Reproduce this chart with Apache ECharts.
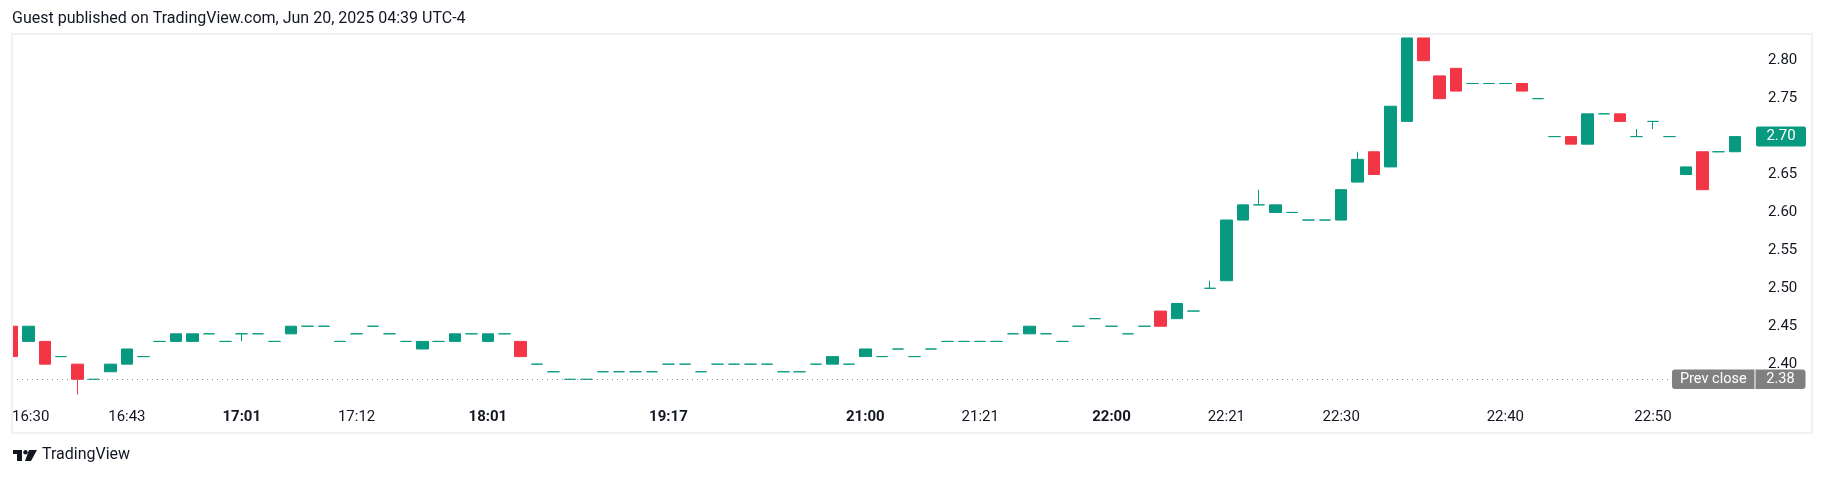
<!DOCTYPE html>
<html>
<head>
<meta charset="utf-8">
<title>TradingView chart</title>
<script src="https://cdn.jsdelivr.net/npm/echarts@6/dist/echarts.min.js"></script>
<style>
  html, body { margin: 0; padding: 0; background: #fff; }
  #chart { width: 1826px; height: 478px; }
</style>
</head>
<body>
<div id="chart"></div>
<script>
// candles, one per bar, left to right
const openPrices = [
  2.45, 2.43, 2.43, 2.41, 2.40, 2.38, 2.39, 2.40, 2.41, 2.43,
  2.43, 2.43, 2.44, 2.43, 2.44, 2.44, 2.43, 2.44, 2.45, 2.45,
  2.43, 2.44, 2.45, 2.44, 2.43, 2.42, 2.43, 2.43, 2.44, 2.43,
  2.44, 2.43, 2.40, 2.39, 2.38, 2.38, 2.39, 2.39, 2.39, 2.39,
  2.40, 2.40, 2.39, 2.40, 2.40, 2.40, 2.40, 2.39, 2.39, 2.40,
  2.40, 2.40, 2.41, 2.41, 2.42, 2.41, 2.42, 2.43, 2.43, 2.43,
  2.43, 2.44, 2.44, 2.44, 2.43, 2.45, 2.46, 2.45, 2.44, 2.45,
  2.47, 2.46, 2.47, 2.50, 2.51, 2.59, 2.61, 2.60, 2.60, 2.59,
  2.59, 2.59, 2.64, 2.68, 2.66, 2.72, 2.83, 2.78, 2.79, 2.77,
  2.77, 2.77, 2.77, 2.75, 2.70, 2.70, 2.69, 2.73, 2.73, 2.70,
  2.72, 2.70, 2.65, 2.68, 2.68, 2.68
]
const closePrices = [
  2.41, 2.45, 2.40, 2.41, 2.38, 2.38, 2.40, 2.42, 2.41, 2.43,
  2.44, 2.44, 2.44, 2.43, 2.44, 2.44, 2.43, 2.45, 2.45, 2.45,
  2.43, 2.44, 2.45, 2.44, 2.43, 2.43, 2.43, 2.44, 2.44, 2.44,
  2.44, 2.41, 2.40, 2.39, 2.38, 2.38, 2.39, 2.39, 2.39, 2.39,
  2.40, 2.40, 2.39, 2.40, 2.40, 2.40, 2.40, 2.39, 2.39, 2.40,
  2.41, 2.40, 2.42, 2.41, 2.42, 2.41, 2.42, 2.43, 2.43, 2.43,
  2.43, 2.44, 2.45, 2.44, 2.43, 2.45, 2.46, 2.45, 2.44, 2.45,
  2.45, 2.48, 2.47, 2.50, 2.59, 2.61, 2.61, 2.61, 2.60, 2.59,
  2.59, 2.63, 2.67, 2.65, 2.74, 2.83, 2.80, 2.75, 2.76, 2.77,
  2.77, 2.77, 2.76, 2.75, 2.70, 2.69, 2.73, 2.73, 2.72, 2.70,
  2.72, 2.70, 2.66, 2.63, 2.68, 2.70
]
const lowPrices = [
  2.41, 2.43, 2.40, 2.41, 2.36, 2.38, 2.39, 2.40, 2.41, 2.43,
  2.43, 2.43, 2.44, 2.43, 2.43, 2.44, 2.43, 2.44, 2.45, 2.45,
  2.43, 2.44, 2.45, 2.44, 2.43, 2.42, 2.43, 2.43, 2.44, 2.43,
  2.44, 2.41, 2.40, 2.39, 2.38, 2.38, 2.39, 2.39, 2.39, 2.39,
  2.40, 2.40, 2.39, 2.40, 2.40, 2.40, 2.40, 2.39, 2.39, 2.40,
  2.40, 2.40, 2.41, 2.41, 2.42, 2.41, 2.42, 2.43, 2.43, 2.43,
  2.43, 2.44, 2.44, 2.44, 2.43, 2.45, 2.46, 2.45, 2.44, 2.45,
  2.45, 2.46, 2.47, 2.50, 2.51, 2.59, 2.61, 2.60, 2.60, 2.59,
  2.59, 2.59, 2.64, 2.65, 2.66, 2.72, 2.80, 2.75, 2.76, 2.77,
  2.77, 2.77, 2.76, 2.75, 2.70, 2.69, 2.69, 2.73, 2.72, 2.70,
  2.71, 2.70, 2.65, 2.63, 2.68, 2.68
]
const highPrices = [
  2.45, 2.45, 2.43, 2.41, 2.40, 2.38, 2.40, 2.42, 2.41, 2.43,
  2.44, 2.44, 2.44, 2.43, 2.44, 2.44, 2.43, 2.45, 2.45, 2.45,
  2.43, 2.44, 2.45, 2.44, 2.43, 2.43, 2.43, 2.44, 2.44, 2.44,
  2.44, 2.43, 2.40, 2.39, 2.38, 2.38, 2.39, 2.39, 2.39, 2.39,
  2.40, 2.40, 2.39, 2.40, 2.40, 2.40, 2.40, 2.39, 2.39, 2.40,
  2.41, 2.40, 2.42, 2.41, 2.42, 2.41, 2.42, 2.43, 2.43, 2.43,
  2.43, 2.44, 2.45, 2.44, 2.43, 2.45, 2.46, 2.45, 2.44, 2.45,
  2.47, 2.48, 2.47, 2.51, 2.59, 2.61, 2.63, 2.61, 2.60, 2.59,
  2.59, 2.63, 2.68, 2.68, 2.74, 2.83, 2.83, 2.78, 2.79, 2.77,
  2.77, 2.77, 2.77, 2.75, 2.70, 2.70, 2.73, 2.73, 2.73, 2.71,
  2.72, 2.70, 2.66, 2.68, 2.68, 2.70
]

// time scale labels (bar index -> text)
const tickPositions = [0, 7, 14, 21, 29, 40, 52, 59, 67, 74, 81, 91, 100]
const tickLabels = ['16:30', '16:43', '17:01', '17:12', '18:01', '19:17', '21:00', '21:21', '22:00', '22:21', '22:30', '22:40', '22:50']
const boldLabels = ['17:01', '18:01', '19:17', '21:00', '22:00']

const prevClose = 2.38
const lastClose = closePrices[closePrices.length - 1]

const UP = '#089981'
const DOWN = '#F23645'
const TEXT = '#131722'
const FONT = 'Roboto, "Noto Sans", sans-serif'

// one empty slot after the last bar keeps the right half of it visible
const categories = []
for (let i = 0; i <= openPrices.length; i++) {
  const k = tickPositions.indexOf(i)
  categories.push(k >= 0 ? tickLabels[k] : '')
}

const candles = openPrices.map((o, i) => {
  const item = { value: [o, closePrices[i], lowPrices[i], highPrices[i]] }
  if (o === closePrices[i]) {
    // flat bars are always drawn green on TradingView
    item.itemStyle = { color: UP, color0: UP, borderColor: UP, borderColor0: UP }
  }
  return item
})

const chart = echarts.init(document.getElementById('chart'))
chart.setOption({
  animation: false,
  backgroundColor: '#ffffff',
  textStyle: { fontFamily: FONT },
  grid: {
    left: 12,
    top: 22.8,
    width: 1739.5,
    height: 379.3
  },
  xAxis: {
    type: 'category',
    data: categories,
    boundaryGap: false,
    axisLine: { show: false },
    axisTick: { show: false },
    splitLine: { show: false },
    axisLabel: {
      interval: (index, value) => value !== '',
      margin: 7.5,
      alignMinLabel: 'left',
      color: TEXT,
      fontSize: 15,
      fontFamily: FONT,
      formatter: (value) => boldLabels.includes(value) ? '{b|' + value + '}' : value,
      rich: {
        b: { fontWeight: 'bold', fontSize: 15, color: TEXT, fontFamily: FONT }
      }
    }
  },
  yAxis: {
    type: 'value',
    position: 'right',
    min: 2.35,
    max: 2.85,
    interval: 0.05,
    axisLine: { show: false },
    axisTick: { show: false },
    splitLine: { show: false },
    axisLabel: {
      margin: 16.5,
      color: TEXT,
      fontSize: 15,
      fontFamily: FONT,
      formatter: (v) => (v < 2.395 || v > 2.805) ? '' : v.toFixed(2)
    }
  },
  series: [
    {
      type: 'candlestick',
      data: candles,
      barWidth: 12,
      clip: true,
      itemStyle: {
        color: UP,
        color0: DOWN,
        borderColor: UP,
        borderColor0: DOWN,
        borderWidth: 1
      },
      markLine: {
        silent: true,
        symbol: ['none', 'none'],
        data: [
          {
            yAxis: prevClose,
            lineStyle: { color: '#8c8f98', width: 1, type: [1, 4] },
            label: {
              position: 'end',
              distance: -79.5,
              formatter: '{a|Prev close}{g| }{b|' + prevClose.toFixed(2) + '}',
              rich: {
                a: { width: 82.5, height: 19.5, lineHeight: 19.5, align: 'center', color: '#fff', fontSize: 14.5, fontFamily: FONT, backgroundColor: '#808080', borderRadius: [3, 0, 0, 3] },
                g: { width: 1, fontSize: 1 },
                b: { width: 50, height: 19.5, lineHeight: 19.5, align: 'center', color: '#fff', fontSize: 14.5, fontFamily: FONT, backgroundColor: '#808080', borderRadius: [0, 3, 3, 0] }
              }
            }
          },
          {
            yAxis: lastClose,
            lineStyle: { color: 'rgba(0,0,0,0)', width: 1 },
            label: {
              position: 'end',
              distance: 4.5,
              formatter: '{v|' + lastClose.toFixed(2) + '}',
              rich: {
                v: { width: 50, height: 20, lineHeight: 20, align: 'center', color: '#fff', fontSize: 15, fontFamily: FONT, backgroundColor: UP, borderRadius: 2 }
              }
            }
          }
        ]
      }
    }
  ],
  graphic: [
    {
      type: 'text',
      left: 12,
      top: 11,
      style: { text: 'Guest published on TradingView.com, Jun 20, 2025 04:39 UTC-4', fill: TEXT, font: '16px ' + FONT }
    },
    // hides the part of the first bar that falls left of the pane
    {
      type: 'rect',
      silent: true,
      z: 10,
      shape: { x: 0, y: 34, width: 12, height: 370 },
      style: { fill: '#ffffff' }
    },
    {
      type: 'rect',
      silent: true,
      z: 11,
      shape: { x: 12, y: 34, width: 1800, height: 399 },
      style: { fill: 'none', stroke: '#eff1f4', lineWidth: 2 }
    },
    // TradingView logo
    {
      type: 'group',
      left: 13,
      top: 450,
      children: [
        { type: 'rect', shape: { x: 0, y: 0, width: 9, height: 4 }, style: { fill: TEXT } },
        { type: 'rect', shape: { x: 4, y: 0, width: 5, height: 11 }, style: { fill: TEXT } },
        { type: 'circle', shape: { cx: 12.5, cy: 2.2, r: 2.2 }, style: { fill: TEXT } },
        { type: 'polygon', shape: { points: [[16, 0], [24, 0], [18, 11], [12, 11]] }, style: { fill: TEXT } }
      ]
    },
    {
      type: 'text',
      left: 42,
      top: 447,
      style: { text: 'TradingView', fill: TEXT, font: '16px ' + FONT }
    }
  ]
})
</script>
</body>
</html>
